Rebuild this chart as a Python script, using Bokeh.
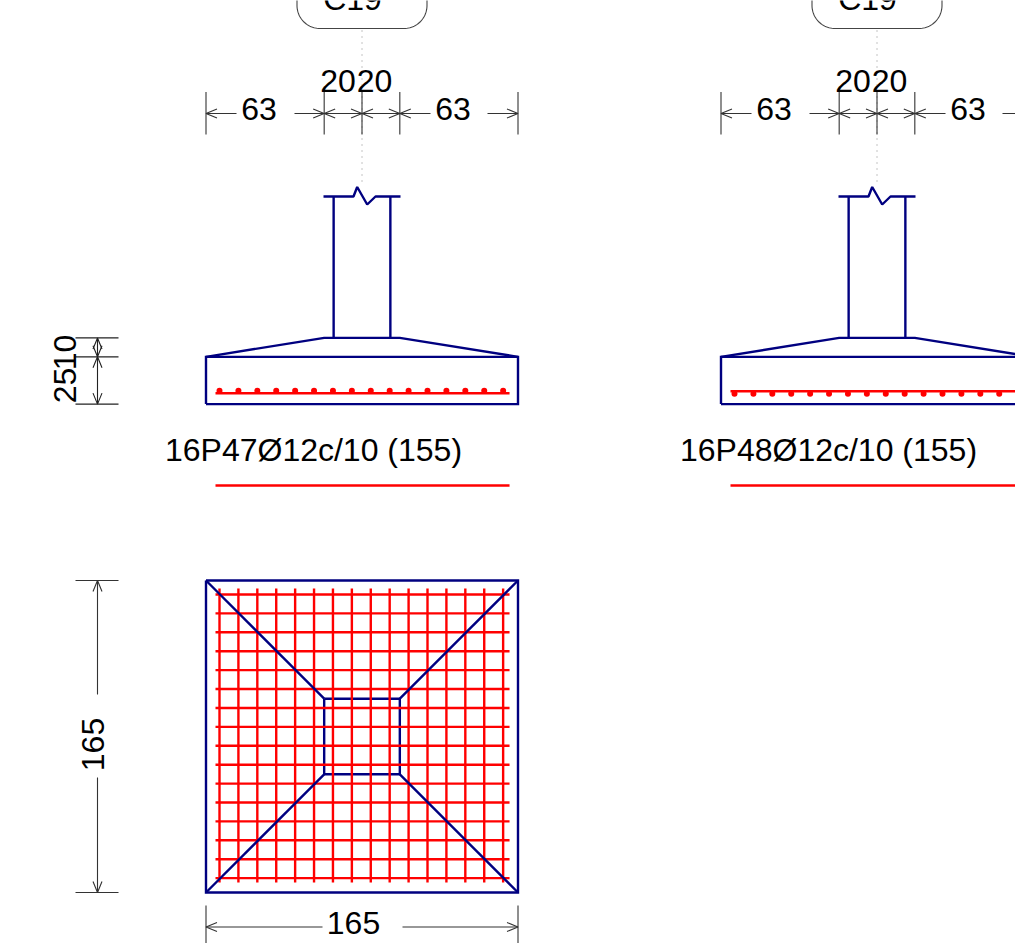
import math
from bokeh.plotting import figure
from bokeh.core.properties import value
from bokeh.embed import file_html
from bokeh.resources import INLINE

# ---- values (cm) ----
footing_dims = [62.5, 20, 20, 62.5]
footing_dim_labels = ["63", "20", "20", "63"]
footing_width = 165
column_width = 30
height_dims = [25, 10]
column_name = "C19"
bar_labels = ["16P47Ø12c/10 (155)", "16P48Ø12c/10 (155)"]
bar_count = 16
bar_spacing = 10
bar_length = 155.5
rebar_side = [1, -1]
WIDTH_TOTAL = 1015
HEIGHT_TOTAL = 943

S = 312 / 165
ORG_PX, BASE_PX = 205.5, 403.6
DX = 515.0
NAVY, RED, DIM, FONT = "#000080", "#ff0000", "#333333", "Liberation Sans"
LW = 2.4

X = lambda px: (px - ORG_PX) / S
Y = lambda py: (BASE_PX - py) / S

p = figure(width=WIDTH_TOTAL, height=HEIGHT_TOTAL, output_backend="svg", toolbar_location=None,
           x_range=(X(0), X(WIDTH_TOTAL)), y_range=(Y(HEIGHT_TOTAL), Y(0)),
           min_border=0, min_border_left=0, min_border_right=0, min_border_top=0, min_border_bottom=0,
           background_fill_color="white")
p.axis.visible = False
p.grid.visible = False
p.outline_line_color = None


def label(x, y, txt, angle=0.0):
    # x, y give the centre of the digits
    p.text([x], [y], text=[txt], text_font=value(FONT), text_font_size="32px", text_color="#000000",
           text_align="center", text_baseline="middle", angle=angle)

AL, AW = 11 / S, 4.5 / S
class Seg:
    def __init__(self): self.xs, self.ys = [], []
    def add(self, a, b, c, d):
        self.xs.append([a, c]); self.ys.append([b, d])
    def arrow_h(self, x, y, sgn):
        self.xs.append([x + sgn * AL, x, x + sgn * AL]); self.ys.append([y + AW, y, y - AW])
    def arrow_v(self, x, y, sgn):
        self.xs.append([x + AW, x, x - AW]); self.ys.append([y + sgn * AL, y, y + sgn * AL])
    def draw(self, color=DIM, width=1.1):
        p.multi_line(self.xs, self.ys, line_color=color, line_width=width)

x_ticks = [0]
for d in footing_dims:
    x_ticks.append(x_ticks[-1] + d)
col_c = footing_width / 2
col_l, col_r = col_c - column_width / 2, col_c + column_width / 2
neck_l, neck_r = x_ticks[1], x_ticks[3]
h_foot, h_taper = height_dims
h_top = h_foot + h_taper

# ---- elevations ----
for k, name in enumerate(bar_labels):
    o = k * DX / S
    # column tag
    cx = o + col_c
    hw, r = 65 / S, 23 / S
    ybot = Y(28)
    n = 24
    left = [(cx - hw + r - r * math.sin(i / n * math.pi / 2), ybot + r - r * math.cos(i / n * math.pi / 2)) for i in range(n + 1)]
    right = [(cx + hw - r + r * math.sin(i / n * math.pi / 2), ybot + r - r * math.cos(i / n * math.pi / 2)) for i in range(n + 1)]
    pts = [(cx - hw, Y(-4))] + left[::-1] + right + [(cx + hw, Y(-4))]
    p.line([a for a, _ in pts], [b for _, b in pts], line_color="#444444", line_width=1.1)
    label(o + X(352), Y(-1.5), column_name)
    # axis leader
    p.line([cx, cx], [Y(30), Y(186)], line_color="#888888", line_width=1, line_dash="1 5")
    # horizontal dimension chain
    seg = Seg()
    yd = Y(113)
    for t in x_ticks:
        seg.add(o + t, Y(91.5), o + t, Y(134))
    seg.add(o, yd, o + X(236), yd)
    seg.add(o + X(294), yd, o + X(430), yd)
    seg.add(o + X(487), yd, o + footing_width, yd)
    for i, t in enumerate(x_ticks):
        if i > 0:
            seg.arrow_h(o + t, yd, -1)
        if i < len(x_ticks) - 1:
            seg.arrow_h(o + t, yd, 1)
    seg.draw()
    label(o + X(258.5), Y(108), footing_dim_labels[0])
    label(o + X(452.5), Y(108), footing_dim_labels[3])
    label(o + X(337.5), Y(80.5), footing_dim_labels[1])
    label(o + X(374), Y(80.5), footing_dim_labels[2])
    # concrete outline
    zig = [(323, 196), (353, 196), (356.7, 186.5), (366.7, 204), (375, 196), (400, 196)]
    p.line([o + X(a) for a, _ in zig], [Y(b) for _, b in zig], line_color=NAVY, line_width=LW)
    p.multi_line([[o + col_l, o + col_l], [o + col_r, o + col_r]], [[h_top, Y(196)], [h_top, Y(196)]], line_color=NAVY, line_width=LW)
    p.line([o, o + neck_l, o + neck_r, o + footing_width], [h_foot, h_top, h_top, h_foot], line_color=NAVY, line_width=LW)
    p.line([o, o + footing_width, o + footing_width, o, o], [0, 0, h_foot, h_foot, 0], line_color=NAVY, line_width=LW, line_join="miter")
    # bottom rebar
    side = rebar_side[k]
    x0 = X(215)
    yr = Y(392.7) if side > 0 else Y(390.7)
    p.line([o + x0, o + x0 + bar_length], [yr, yr], line_color=RED, line_width=LW)
    bx = [o + X(219) + bar_spacing * i for i in range(bar_count)]
    p.scatter(bx, [yr + side * 1.3] * bar_count, size=6, marker="circle", fill_color=RED, line_color=None)
    # bar label
    label(o + X(313), Y(449), name)
    p.line([o + x0, o + x0 + bar_length], [Y(485), Y(485)], line_color=RED, line_width=LW)

# ---- left height dimensions ----
seg = Seg()
xd = X(97)
for h in [0, h_foot, h_top]:
    seg.add(X(75), h, X(118), h)
seg.add(xd, 0, xd, h_top)
seg.arrow_v(xd, 0, 1)
seg.arrow_v(xd, h_foot, -1)
seg.arrow_v(xd, h_foot, 1)
seg.arrow_v(xd, h_top, -1)
seg.draw(color="#222222")
label(X(64), Y(385), str(height_dims[0]), angle=math.pi / 2)
label(X(64), Y(352), str(height_dims[1]), angle=math.pi / 2)

# ---- plan ----
pl_t = Y(580)
pl_b = pl_t - footing_width
in_t, in_b = pl_t - footing_dims[0], pl_t - footing_dims[0] - footing_dims[1] - footing_dims[2]
p.line([neck_l, neck_r, neck_r, neck_l, neck_l], [in_t, in_t, in_b, in_b, in_t], line_color=NAVY, line_width=LW)

vx = [X(219) + bar_spacing * i for i in range(bar_count)]
hy = [Y(594) - bar_spacing * i for i in range(bar_count)]
p.multi_line([[x, x] for x in vx], [[Y(588), Y(588) - bar_length]] * bar_count, line_color=RED, line_width=LW)
p.multi_line([[X(215), X(215) + bar_length]] * bar_count, [[y, y] for y in hy], line_color=RED, line_width=LW)

p.multi_line([[0, neck_l], [footing_width, neck_r], [0, neck_l], [footing_width, neck_r]],
             [[pl_t, in_t], [pl_t, in_t], [pl_b, in_b], [pl_b, in_b]], line_color=NAVY, line_width=LW)
p.line([0, footing_width, footing_width, 0, 0], [pl_t, pl_t, pl_b, pl_b, pl_t], line_color=NAVY, line_width=LW, line_join="miter")

# plan dimensions
seg = Seg()
for h in [pl_t, pl_b]:
    seg.add(X(75), h, X(118), h)
seg.add(xd, pl_t, xd, Y(694))
seg.add(xd, Y(777), xd, pl_b)
seg.arrow_v(xd, pl_t, -1)
seg.arrow_v(xd, pl_b, 1)
yb = Y(926.5)
for t in [0, footing_width]:
    seg.add(t, Y(905), t, Y(948))
seg.add(0, yb, X(322), yb)
seg.add(X(402), yb, footing_width, yb)
seg.arrow_h(0, yb, 1)
seg.arrow_h(footing_width, yb, -1)
seg.draw()
label(X(92), Y(744), str(footing_width), angle=math.pi / 2)
label(X(353), Y(922.5), str(footing_width))

open("out.html", "w").write(file_html(p, INLINE))
